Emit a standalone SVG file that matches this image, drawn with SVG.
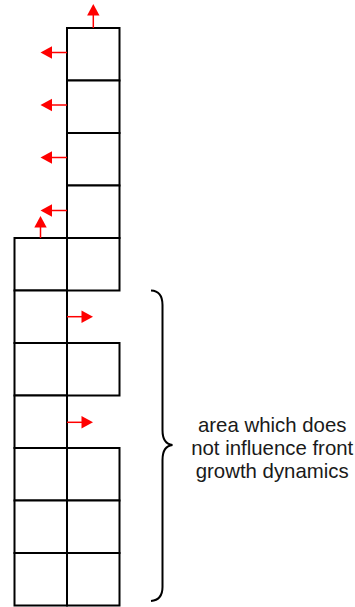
<svg xmlns="http://www.w3.org/2000/svg" width="355" height="607" viewBox="0 0 355 607">
<style>
.cell{fill:#fff;stroke:#000;stroke-width:2}
.arr{stroke:#f00;stroke-width:1.5;fill:none}
.head{fill:#f00;stroke:none}
.lbl{font-family:"Liberation Sans",Arial,sans-serif;font-size:20.4px;fill:#1a1a1a;text-anchor:middle}
</style>
<rect width="355" height="607" fill="#fff"/>
<g id="cells">
<g id="r0"><rect class="cell" x="67" y="28" width="52.5" height="52.5"/></g>
<g id="r1"><rect class="cell" x="67" y="80.5" width="52.5" height="52.5"/></g>
<g id="r2"><rect class="cell" x="67" y="133" width="52.5" height="52.5"/></g>
<g id="r3"><rect class="cell" x="67" y="185.5" width="52.5" height="52.5"/></g>
<g id="r4"><rect class="cell" x="67" y="238" width="52.5" height="52.5"/></g>
<g id="r6"><rect class="cell" x="67" y="343" width="52.5" height="52.5"/></g>
<g id="r8"><rect class="cell" x="67" y="448" width="52.5" height="52.5"/></g>
<g id="r9"><rect class="cell" x="67" y="500.5" width="52.5" height="52.5"/></g>
<g id="r10"><rect class="cell" x="67" y="553" width="52.5" height="52.5"/></g>
<g id="l4"><rect class="cell" x="14.5" y="238" width="52.5" height="52.5"/></g>
<g id="l5"><rect class="cell" x="14.5" y="290.5" width="52.5" height="52.5"/></g>
<g id="l6"><rect class="cell" x="14.5" y="343" width="52.5" height="52.5"/></g>
<g id="l7"><rect class="cell" x="14.5" y="395.5" width="52.5" height="52.5"/></g>
<g id="l8"><rect class="cell" x="14.5" y="448" width="52.5" height="52.5"/></g>
<g id="l9"><rect class="cell" x="14.5" y="500.5" width="52.5" height="52.5"/></g>
<g id="l10"><rect class="cell" x="14.5" y="553" width="52.5" height="52.5"/></g>
</g>
<g id="arrows">
<line class="arr" x1="93.3" y1="28" x2="93.3" y2="15"/><polygon class="head" points="93.3,4 99.5,15.5 87.1,15.5"/>
<line class="arr" x1="67" y1="52.5" x2="51" y2="52.5"/><polygon class="head" points="40.5,52.5 52,46.3 52,58.7"/>
<line class="arr" x1="67" y1="105" x2="51" y2="105"/><polygon class="head" points="40.5,105 52,98.8 52,111.2"/>
<line class="arr" x1="67" y1="157.5" x2="51" y2="157.5"/><polygon class="head" points="40.5,157.5 52,151.3 52,163.7"/>
<line class="arr" x1="67" y1="210.5" x2="51" y2="210.5"/><polygon class="head" points="40.5,210.5 52,204.3 52,216.7"/>
<line class="arr" x1="40.5" y1="238" x2="40.5" y2="226"/><polygon class="head" points="40.5,216 46.7,227.5 34.3,227.5"/>
<line class="arr" x1="67" y1="316.7" x2="83" y2="316.7"/><polygon class="head" points="93,316.7 81.5,310.5 81.5,322.9"/>
<line class="arr" x1="67" y1="422.3" x2="83" y2="422.3"/><polygon class="head" points="93,422.3 81.5,416.1 81.5,428.5"/>
</g>
<g id="brace">
<path d="M151,290.5 Q162.5,291 162.5,305 L162.5,430 Q162.5,444 172.5,445 Q162.5,446 162.5,460 L162.5,587 Q162.5,600 151,601" fill="none" stroke="#000" stroke-width="2"/>
</g>
<g id="label">
<text class="lbl" x="272.2" y="431.7">area which does</text>
<text class="lbl" x="272.2" y="454.5">not influence front</text>
<text class="lbl" x="272.2" y="477.5">growth dynamics</text>
</g>
</svg>
